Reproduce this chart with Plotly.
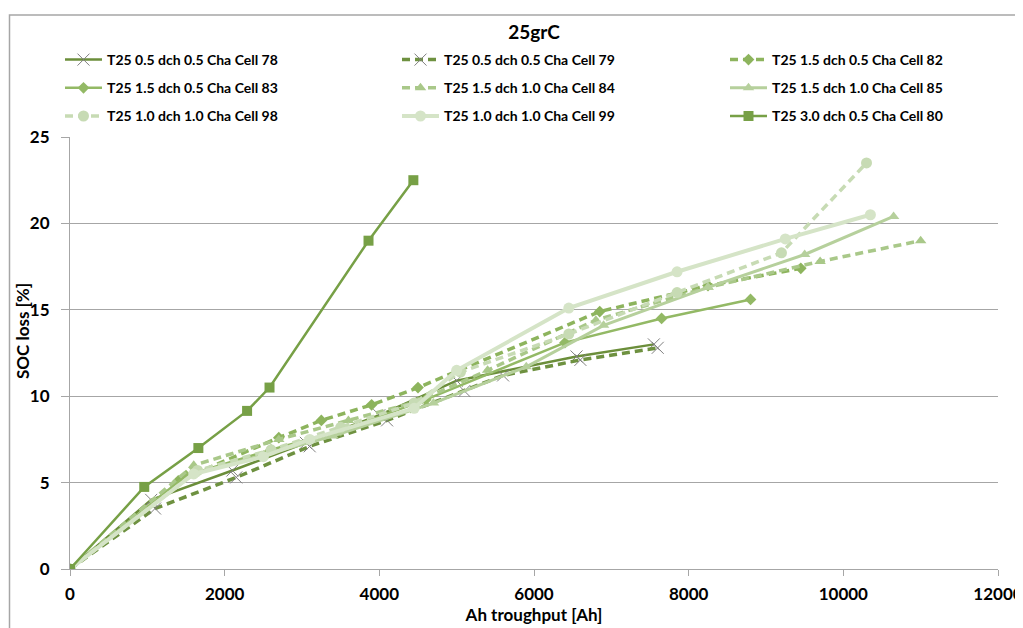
import plotly.graph_objects as go

names = ["T25 0.5 dch 0.5 Cha Cell 78", "T25 0.5 dch 0.5 Cha Cell 79", "T25 1.5 dch 0.5 Cha Cell 82",
         "T25 1.5 dch 0.5 Cha Cell 83", "T25 1.5 dch 1.0 Cha Cell 84", "T25 1.5 dch 1.0 Cha Cell 85",
         "T25 1.0 dch 1.0 Cha Cell 98", "T25 1.0 dch 1.0 Cha Cell 99", "T25 3.0 dch 0.5 Cha Cell 80"]

x78 = [0, 1050, 2100, 3050, 4000, 5000, 6550, 7550]
y78 = [0, 4.0, 5.7, 7.3, 8.9, 10.9, 12.3, 13.0]
x79 = [0, 1100, 2150, 3100, 4100, 5100, 5600, 6600, 7600]
y79 = [0, 3.5, 5.3, 7.1, 8.6, 10.3, 11.2, 12.1, 12.8]
x82 = [0, 1400, 2700, 3250, 3900, 4500, 6850, 8250, 9450]
y82 = [0, 5.1, 7.6, 8.6, 9.5, 10.5, 14.9, 16.4, 17.4]
x83 = [0, 1500, 2600, 3500, 4600, 6400, 7650, 8800]
y83 = [0, 5.4, 6.9, 8.0, 9.8, 13.1, 14.5, 15.6]
x84 = [0, 1600, 2700, 3600, 4500, 5400, 6800, 8250, 9700, 11000]
y84 = [0, 6.0, 7.5, 8.6, 9.7, 11.5, 14.4, 16.3, 17.8, 19.0]
x85 = [0, 1600, 2500, 3400, 4700, 5900, 6900, 8250, 9500, 10650]
y85 = [0, 5.5, 6.6, 7.7, 9.6, 11.7, 14.1, 16.3, 18.2, 20.4]
x98 = [0, 1650, 2600, 3500, 4450, 5050, 6450, 7850, 9200, 10300]
y98 = [0, 5.7, 6.9, 8.2, 9.6, 11.4, 13.6, 16.0, 18.3, 23.5]
x99 = [0, 1600, 2500, 3100, 4450, 5000, 6450, 7850, 9250, 10350]
y99 = [0, 5.5, 6.5, 7.5, 9.3, 11.5, 15.1, 17.2, 19.1, 20.5]
x80 = [0, 960, 1660, 2290, 2580, 3860, 4440]
y80 = [0, 4.75, 7.0, 9.15, 10.5, 19.0, 22.5]

xs = [x78, x79, x82, x83, x84, x85, x98, x99, x80]
ys = [y78, y79, y82, y83, y84, y85, y98, y99, y80]
colors = ["#6B8E3A", "#6E9140", "#8DB45D", "#93B965", "#A9C889", "#B6D09C", "#C7DBB4", "#D5E4C7", "#77A046"]
dashes = ["solid", "8px,5px", "8px,5px", "solid", "8px,5px", "solid", "8px,5px", "solid", "solid"]
widths = [2.5, 3.5, 3.5, 2.5, 3.5, 3, 3.5, 4, 2.5]
symbols = ["x-thin-open", "x-thin-open", "diamond", "diamond", "triangle-up", "triangle-up", "circle", "circle", "square"]
msizes = [12, 12, 9, 9, 10, 10, 11, 11, 10]
legend_ids = ["legend", "legend2", "legend3"] * 3

fig = go.Figure()
for i, (n, x, y, c, d, w, s, ms) in enumerate(zip(names, xs, ys, colors, dashes, widths, symbols, msizes)):
    mk = dict(symbol=s, size=ms, color=c)
    if s.startswith("x"):
        mk = dict(symbol=s, size=ms, color="#7F7F7F", line=dict(width=1, color="#8A8A8A"))
    fig.add_trace(go.Scatter(x=x, y=y, name=n, mode="lines+markers", legend=legend_ids[i],
                             legendgroup=f"g{i}",
                             line=dict(color=c, width=w, dash=d), marker=mk))

font = "Lato, 'Open Sans', sans-serif"
W, H = 1023, 628
OFF = 8  # page body offset
L, T, B = 70, 137, 569


def leg(xpx):
    return dict(orientation="v", xref="container", yref="container",
                x=(xpx - OFF) / W, y=1 - (44 - OFF) / H, xanchor="left", yanchor="top",
                itemwidth=37, tracegroupgap=7,
                font=dict(size=14, family=font, weight="bold"), bgcolor="rgba(0,0,0,0)")


fig.update_layout(
    width=W, height=H,
    margin=dict(l=L - OFF, r=25 + OFF, t=T - OFF, b=(628 - B) + OFF, autoexpand=False),
    paper_bgcolor="white", plot_bgcolor="white",
    font=dict(family=font, color="black"),
    title=dict(text="<b>25grC</b>", x=(534 - OFF) / W, xanchor="center", y=1 - (32 - OFF) / H,
               yanchor="middle", font=dict(size=19, family=font)),
    showlegend=True,
    legend=leg(60), legend2=leg(397), legend3=leg(725),
    xaxis=dict(range=[0, 12000], dtick=2000, tickformat="d", showgrid=False, zeroline=False,
               showline=True, linecolor="#A6A6A6", linewidth=1,
               ticks="outside", ticklen=6, tickcolor="#A6A6A6", ticklabelstandoff=4,
               tickfont=dict(size=17, family=font, weight="bold"),
               title=dict(text="<b>Ah troughput [Ah]</b>", font=dict(size=17, family=font), standoff=2)),
    yaxis=dict(range=[0, 25], dtick=5, showgrid=True, gridcolor="#A6A6A6", gridwidth=1,
               zeroline=False, showline=True, linecolor="#A6A6A6", linewidth=1,
               ticks="outside", ticklen=8, tickcolor="#A6A6A6", ticklabelstandoff=8,
               tickfont=dict(size=17, family=font, weight="bold")),
    annotations=[dict(text="<b>SOC loss [%]</b>", xref="paper", yref="paper",
                      x=(22 - L) / (998 - L), y=(B - 331) / (B - T), xanchor="center", yanchor="middle",
                      textangle=-90, showarrow=False, font=dict(size=17, family=font))],
    shapes=[dict(type="rect", xref="paper", yref="paper",
                 x0=(OFF + 1.5 - L) / (998 - L), x1=1.1, y0=-0.3, y1=(B - 15) / (B - T),
                 line=dict(color="#A6A6A6", width=1.5), layer="below")],
)

fig.write_html("out.html")
